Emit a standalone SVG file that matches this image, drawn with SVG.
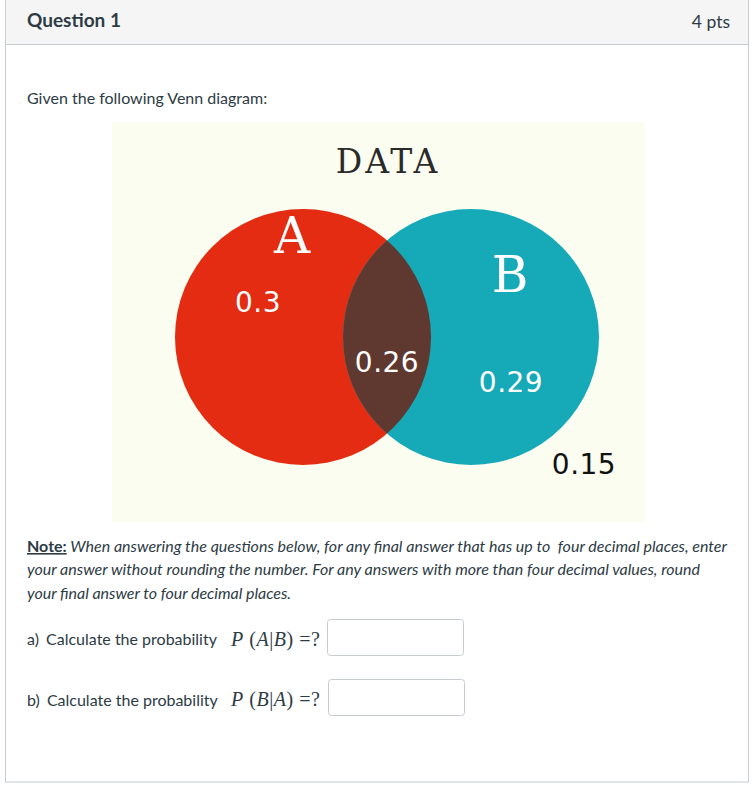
<svg xmlns="http://www.w3.org/2000/svg" width="754" height="787" viewBox="0 0 754 787">
<style>
.lato{font-family:Lato,"Liberation Sans",sans-serif;fill:#2d3b45}
.num{font-family:"DejaVu Sans",sans-serif;font-size:28px;fill:#fff;letter-spacing:0.5px}
.slab{font-family:"DejaVu Serif",serif;fill:#fff}
.math{font-family:"Liberation Serif",serif;font-size:20px;fill:#2d3b45}
.box{fill:#fff;stroke:#c7cdd1;stroke-width:1}
</style>
<rect x="0" y="0" width="754" height="787" fill="#fff"/>
<g id="panel">
<rect x="5.5" y="-1" width="743" height="783" fill="#fff" stroke="#c7cdd1"/>
<rect x="6" y="0" width="742" height="44" fill="#f5f5f5"/>
<line x1="6" y1="44.5" x2="748" y2="44.5" stroke="#c7cdd1"/>
<text x="27" y="27" class="lato" font-size="19" font-weight="bold">Question 1</text>
<text x="730" y="28" class="lato" font-size="17.5" text-anchor="end">4 pts</text>
<text x="27" y="104" class="lato" font-size="16">Given the following Venn diagram:</text>
</g>
<g id="venn">
<rect x="112" y="122" width="533" height="400" fill="#fbfdf0"/>
<text x="388" y="173" font-family="DejaVu Serif,serif" font-size="33" fill="#2a2a2a" text-anchor="middle" letter-spacing="3">DATA</text>
<circle id="circleA" cx="303" cy="337" r="128" fill="#e32c12"/>
<circle id="circleB" cx="471" cy="337" r="128" fill="#16a9b7"/>
<clipPath id="clipA"><circle cx="303" cy="337" r="128"/></clipPath>
<circle id="intersection" cx="471" cy="337" r="128" fill="#5f3830" clip-path="url(#clipA)"/>
<text x="292" y="253" class="slab" font-size="50" text-anchor="middle">A</text>
<text x="510" y="292" class="slab" font-size="50" text-anchor="middle">B</text>
<text x="258" y="312" class="num" text-anchor="middle">0.3</text>
<text x="387" y="372" class="num" text-anchor="middle">0.26</text>
<text x="511" y="392" class="num" text-anchor="middle">0.29</text>
<text x="584" y="474" class="num" text-anchor="middle" style="fill:#111">0.15</text>
</g>
<g id="note" class="lato" font-size="16">
<text x="27" y="552" textLength="700" xml:space="preserve"><tspan font-weight="bold" text-decoration="underline">Note:</tspan><tspan font-style="italic"> When answering the questions below, for any final answer that has up to  four decimal places, enter</tspan></text>
<text x="27" y="575" font-style="italic" textLength="673">your answer without rounding the number. For any answers with more than four decimal values, round</text>
<text x="27" y="599" font-style="italic" textLength="264">your final answer to four decimal places.</text>
</g>
<g id="qa">
<text x="27" y="645" class="lato" font-size="16">a)<tspan dx="3"> Calculate the probability</tspan></text>
<text x="231" y="646" class="math" textLength="89" lengthAdjust="spacing"><tspan font-style="italic">P</tspan> (<tspan font-style="italic">A</tspan>|<tspan font-style="italic">B</tspan>) =?</text>
<rect x="327.5" y="619.5" width="136" height="36" rx="3" class="box"/>
</g>
<g id="qb">
<text x="27" y="706" class="lato" font-size="16">b)<tspan dx="3"> Calculate the probability</tspan></text>
<text x="231" y="706" class="math" textLength="89" lengthAdjust="spacing"><tspan font-style="italic">P</tspan> (<tspan font-style="italic">B</tspan>|<tspan font-style="italic">A</tspan>) =?</text>
<rect x="328.5" y="679.5" width="136" height="36" rx="3" class="box"/>
</g>
</svg>
